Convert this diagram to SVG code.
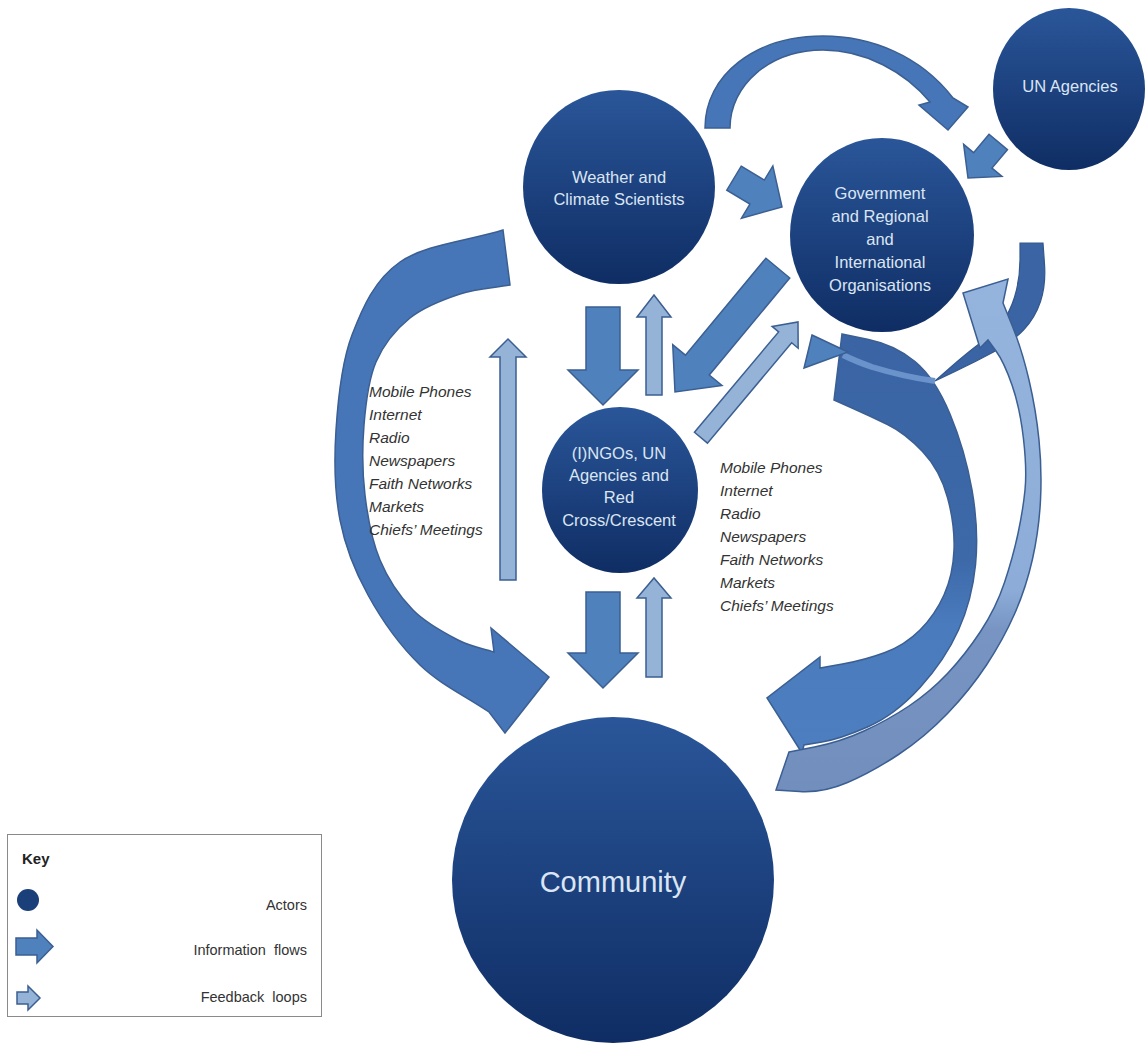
<svg xmlns="http://www.w3.org/2000/svg" width="1145" height="1048" viewBox="0 0 1145 1048">
<defs>
<linearGradient id="nodeGrad" x1="0" y1="0" x2="0" y2="1">
<stop offset="0" stop-color="#2a5699"/>
<stop offset="1" stop-color="#0f2d64"/>
</linearGradient>
<linearGradient id="darkArrowGrad" gradientUnits="userSpaceOnUse" x1="0" y1="330" x2="0" y2="750">
<stop offset="0" stop-color="#3a64a3"/>
<stop offset="0.55" stop-color="#3d69a9"/>
<stop offset="0.7" stop-color="#4a7bbd"/>
<stop offset="1" stop-color="#4c7ec0"/>
</linearGradient>
<linearGradient id="lightArrowGrad" gradientUnits="userSpaceOnUse" x1="0" y1="280" x2="0" y2="795">
<stop offset="0" stop-color="#95b4dd"/>
<stop offset="0.6" stop-color="#8dadd8"/>
<stop offset="0.68" stop-color="#7794c2"/>
<stop offset="1" stop-color="#718ebd"/>
</linearGradient>
</defs>
<style>
.info{fill:#4f81bd;stroke:#3b5f92;stroke-width:1.5}
.fb{fill:#95b3d7;stroke:#3b5f92;stroke-width:1.5}
.curve{fill:#4676b8;stroke:#3b5f92;stroke-width:1.5}
.node{fill:url(#nodeGrad)}
.nt{font-family:"Liberation Sans",Arial,sans-serif;font-size:16.5px;fill:#dbe5f3;text-anchor:middle}
.list{font-family:"Liberation Sans",Arial,sans-serif;font-size:15.5px;font-style:italic;fill:#333333}
.key{font-family:"Liberation Sans",Arial,sans-serif;font-size:14.5px;fill:#333333}
</style>
<rect width="1145" height="1048" fill="#ffffff"/>

<g id="connectors">
  <!-- top arc: Weather -> Government -->
  <path class="curve" d="M705,128 C705,75 755,36 823,36 C870,36 920,55 953,98 L968,107 L948,130 L919,105 L930,102 C905,72 865,50 823,50 C770,50 730,85 730,128 Z"/>
  <!-- left arc: Weather -> Community -->
  <path class="curve" d="M503,230 C468.7,240.7 425.2,244.5 400,262 C374.8,279.5 362.7,307 352,335 C341.3,363 338,399.2 336,430 C334,460.8 334.7,492.5 340,520 C345.3,547.5 354.7,570.8 368,595 C381.3,619.2 399.8,645.5 420,665 C440.2,684.5 466,696.3 489,712 L505,733 L549,677 L491,628 L494,652 C482,648 471.5,647 458,640 C444.5,633 426,623.3 413,610 C400,596.7 388,579.2 380,560 C372,540.8 367.7,517.5 365,495 C362.3,472.5 362.2,447.2 364,425 C365.8,402.8 368.3,379.8 376,362 C383.7,344.2 396,329.3 410,318 C424,306.7 443.3,299.5 460,294 C476.7,288.5 493.3,288 510,285 Z"/>
  <!-- straight arrows -->
  <polygon class="info" points="-56,-14 -29,-14 -29,-30.5 0,0 -29,30.5 -29,14 -56,14" transform="translate(782,207) rotate(31)"/>
  <polygon class="info" points="-47,-12 -23,-12 -23,-25 0,0 -23,25 -23,12 -47,12" transform="translate(968,178) rotate(130)"/>
  <polygon class="info" points="-161,-15.5 -35,-15.5 -35,-32 0,0 -35,32 -35,15.5 -161,15.5" transform="translate(675,392) rotate(129.7)"/>
  <polygon class="fb" points="-151,-8.5 -20,-8.5 -20,-17 0,0 -20,17 -20,8.5 -151,8.5" transform="translate(798,322) rotate(-50)"/>
  <polygon class="info" points="586,307 620,307 620,370 638,370 603,405 568,370 586,370"/>
  <polygon class="fb" points="646,395 662,395 662,317 671,317 654,295 637,317 646,317"/>
  <polygon class="info" points="586,592 620,592 620,653 638,653 603,688 568,653 586,653"/>
  <polygon class="fb" points="646,677 662,677 662,598 671,598 654,578 637,598 646,598"/>
  <polygon class="fb" points="500,580 516,580 516,357 526,357 508,339 490,357 500,357"/>
  <!-- right dark arrow: Government -> Community -->
  <path fill="url(#darkArrowGrad)" stroke="#3b5f92" stroke-width="1.5" d="M842,334 L868.5,339.5 Q895,345 915,361.5 Q935,378 950,414 Q965,450 972,490 Q979,530 975.5,565 Q972,600 958.5,630 Q945,660 920,687.5 Q895,715 867.5,727 Q840,739 822,742 L804,745 L802,753 L767,698 L820,657 L820,668 L842.5,664 Q865,660 885,652.5 Q905,645 920,630 Q935,615 944,595 Q953,575 954,550 Q955,525 947.5,497.5 Q940,470 922.5,451.5 Q905,433 887.5,424.5 Q870,416 852,408 L834,400 Z"/>
  <!-- UN thin arc -->
  <path fill="#3a64a3" stroke="#34588c" stroke-width="1.2" d="M1020,243 L1043,243 L1044.5,264 Q1046,285 1040.5,301.5 Q1035,318 1023.5,330 Q1012,342 993.5,352 Q975,362 955,371.5 L935,381 L951.5,366.5 Q968,352 983,341 Q998,330 1005.5,317.5 Q1013,305 1016.5,290 Q1020,275 1020,260 Z"/>
  <path d="M935,381 Q905,377 872,367 Q855,361 843,355" fill="none" stroke="#6a93cb" stroke-width="6"/>
  <polygon class="info" points="812,335 848,352 804,368"/>
  <!-- light long feedback arrow: Community -> Government -->
  <path fill="url(#lightArrowGrad)" stroke="#3b5f92" stroke-width="1.5" d="M789,752 L814.5,747 Q840,742 864,731 Q888,720 909,706 Q930,692 947.5,673.5 Q965,655 980.5,631.5 Q996,608 1004.5,582.5 Q1013,557 1018,533.5 Q1023,510 1025,490 Q1027,470 1023.5,439 Q1020,408 1012,385 Q1004,362 996,351 L988,340 L980,348 L963,293 L1008,279 L1003,303 L1012.5,326.5 Q1022,350 1029,380 Q1036,410 1039,440 Q1042,470 1040.5,500 Q1039,530 1032.5,559 Q1026,588 1014.5,614 Q1003,640 986.5,665 Q970,690 947.5,713.5 Q925,737 898.5,754.5 Q872,772 847.5,782.5 Q823,793 799.5,791.5 L776,790 Z"/>
</g>

<g id="node-weather">
  <ellipse class="node" cx="619" cy="187" rx="96" ry="97"/>
  <text class="nt" x="619" y="183">Weather and</text>
  <text class="nt" x="619" y="205">Climate Scientists</text>
</g>
<g id="node-government">
  <ellipse class="node" cx="882" cy="235" rx="92" ry="97"/>
  <text class="nt" x="880" y="199">Government</text>
  <text class="nt" x="880" y="222">and Regional</text>
  <text class="nt" x="880" y="245">and</text>
  <text class="nt" x="880" y="268">International</text>
  <text class="nt" x="880" y="291">Organisations</text>
</g>
<g id="node-un">
  <ellipse class="node" cx="1069" cy="89" rx="76" ry="81"/>
  <text class="nt" x="1070" y="92">UN Agencies</text>
</g>
<g id="node-ngos">
  <ellipse class="node" cx="620" cy="490" rx="78" ry="83"/>
  <text class="nt" x="619" y="459">(I)NGOs, UN</text>
  <text class="nt" x="619" y="481">Agencies and</text>
  <text class="nt" x="619" y="503">Red</text>
  <text class="nt" x="619" y="526">Cross/Crescent</text>
</g>
<g id="node-community">
  <ellipse class="node" cx="613" cy="880" rx="161" ry="163"/>
  <text class="nt" x="613" y="892" style="font-size:29px">Community</text>
</g>

<g id="channels-left">
  <text class="list" x="369" y="397">Mobile Phones</text>
  <text class="list" x="369" y="420">Internet</text>
  <text class="list" x="369" y="443">Radio</text>
  <text class="list" x="369" y="466">Newspapers</text>
  <text class="list" x="369" y="489">Faith Networks</text>
  <text class="list" x="369" y="512">Markets</text>
  <text class="list" x="369" y="535">Chiefs’ Meetings</text>
</g>
<g id="channels-right">
  <text class="list" x="720" y="473">Mobile Phones</text>
  <text class="list" x="720" y="496">Internet</text>
  <text class="list" x="720" y="519">Radio</text>
  <text class="list" x="720" y="542">Newspapers</text>
  <text class="list" x="720" y="565">Faith Networks</text>
  <text class="list" x="720" y="588">Markets</text>
  <text class="list" x="720" y="611">Chiefs’ Meetings</text>
</g>

<g id="key">
  <rect x="7.5" y="834.5" width="314" height="182" fill="#ffffff" stroke="#8a8a8a" stroke-width="1"/>
  <text class="key" x="22" y="864" style="font-weight:bold;font-size:15px;fill:#222">Key</text>
  <circle cx="28" cy="900" r="11" fill="#1b3f78"/>
  <text class="key" x="307" y="910" text-anchor="end">Actors</text>
  <polygon class="info" points="16,938 37,938 37,930 53,946.5 37,963 37,955 16,955"/>
  <text class="key" x="307" y="955" text-anchor="end" word-spacing="4">Information flows</text>
  <polygon class="fb" points="17,992 28,992 28,986 40,998 28,1010 28,1004 17,1004"/>
  <text class="key" x="307" y="1002" text-anchor="end" word-spacing="4">Feedback loops</text>
</g>
</svg>
